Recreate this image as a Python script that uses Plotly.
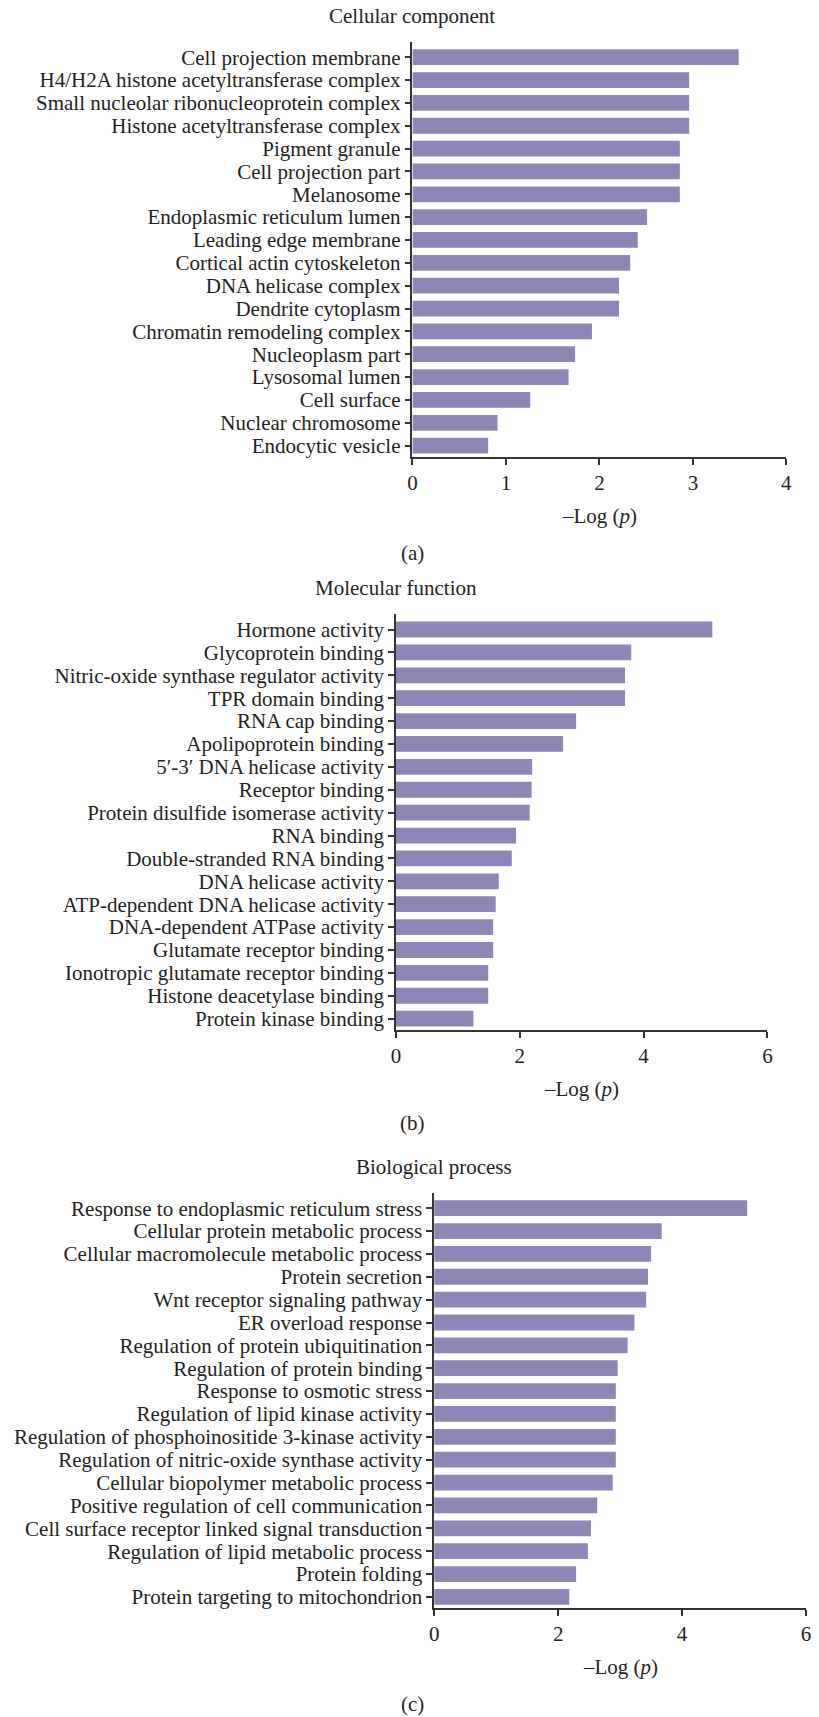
import plotly.graph_objects as go

W, H = 819, 1717

# ---- data -------------------------------------------------------------
cc_terms = [
    "Cell projection membrane",
    "H4/H2A histone acetyltransferase complex",
    "Small nucleolar ribonucleoprotein complex",
    "Histone acetyltransferase complex",
    "Pigment granule",
    "Cell projection part",
    "Melanosome",
    "Endoplasmic reticulum lumen",
    "Leading edge membrane",
    "Cortical actin cytoskeleton",
    "DNA helicase complex",
    "Dendrite cytoplasm",
    "Chromatin remodeling complex",
    "Nucleoplasm part",
    "Lysosomal lumen",
    "Cell surface",
    "Nuclear chromosome",
    "Endocytic vesicle",
]
cc_values = [3.49, 2.96, 2.96, 2.96, 2.86, 2.86, 2.86, 2.51, 2.41, 2.33,
             2.21, 2.21, 1.92, 1.74, 1.67, 1.26, 0.91, 0.81]

mf_terms = [
    "Hormone activity",
    "Glycoprotein binding",
    "Nitric-oxide synthase regulator activity",
    "TPR domain binding",
    "RNA cap binding",
    "Apolipoprotein binding",
    "5\u2032-3\u2032 DNA helicase activity",
    "Receptor binding",
    "Protein disulfide isomerase activity",
    "RNA binding",
    "Double-stranded RNA binding",
    "DNA helicase activity",
    "ATP-dependent DNA helicase activity",
    "DNA-dependent ATPase activity",
    "Glutamate receptor binding",
    "Ionotropic glutamate receptor binding",
    "Histone deacetylase binding",
    "Protein kinase binding",
]
mf_values = [5.11, 3.80, 3.70, 3.70, 2.91, 2.70, 2.20, 2.19, 2.16, 1.94,
             1.87, 1.66, 1.61, 1.57, 1.57, 1.49, 1.49, 1.25]

bp_terms = [
    "Response to endoplasmic reticulum stress",
    "Cellular protein metabolic process",
    "Cellular macromolecule metabolic process",
    "Protein secretion",
    "Wnt receptor signaling pathway",
    "ER overload response",
    "Regulation of protein ubiquitination",
    "Regulation of protein binding",
    "Response to osmotic stress",
    "Regulation of lipid kinase activity",
    "Regulation of phosphoinositide 3-kinase activity",
    "Regulation of nitric-oxide synthase activity",
    "Cellular biopolymer metabolic process",
    "Positive regulation of cell communication",
    "Cell surface receptor linked signal transduction",
    "Regulation of lipid metabolic process",
    "Protein folding",
    "Protein targeting to mitochondrion",
]
bp_values = [5.05, 3.67, 3.50, 3.45, 3.42, 3.23, 3.12, 2.96, 2.93, 2.93,
             2.93, 2.93, 2.88, 2.63, 2.53, 2.48, 2.29, 2.18]

panel_titles = ["Cellular component", "Molecular function", "Biological process"]
panel_letters = ["(a)", "(b)", "(c)"]
x_ticks = [[0, 1, 2, 3, 4], [0, 2, 4, 6], [0, 2, 4, 6]]
x_title = "\u2013Log (<i>p</i>)"

# ---- styling ----------------------------------------------------------
BAR = "#8f85b6"
INK = "#231f20"
AXIS = "#333333"
FONT = "Liberation Serif"

# pixel geometry of each panel: left/right of x axis, top/bottom of y axis
panels = [
    dict(x0=413.0, x1=792.0, top=41.7, bottom=457.3),
    dict(x0=396.3, x1=772.8, top=614.3, bottom=1030.7),
    dict(x0=435.0, x1=812.0, top=1193.3, bottom=1609.3),
]


def px_x(v):
    return v / W


def px_y(v):
    return 1 - v / H


fig = go.Figure()
series = [(cc_terms, cc_values), (mf_terms, mf_values), (bp_terms, bp_values)]

annotations = []
for i, ((terms, vals), geo, ticks) in enumerate(zip(series, panels, x_ticks)):
    n = i + 1
    xa = "x" if n == 1 else f"x{n}"
    ya = "y" if n == 1 else f"y{n}"
    fig.add_trace(go.Bar(
        x=vals, y=terms, orientation="h",
        marker=dict(color=BAR, line=dict(width=0)),
        xaxis=xa, yaxis=ya, showlegend=False,
    ))
    xkey = "xaxis" if n == 1 else f"xaxis{n}"
    ykey = "yaxis" if n == 1 else f"yaxis{n}"
    fig.update_layout({
        xkey: dict(
            domain=[px_x(geo["x0"]), px_x(geo["x1"])],
            range=[ticks[0], ticks[-1]],
            anchor=ya,
            tickmode="array", tickvals=ticks,
            ticks="outside", ticklen=6, tickwidth=1.5, tickcolor=AXIS,
            showline=True, linecolor=AXIS, linewidth=1.5,
            showgrid=False, zeroline=False,
            tickfont=dict(family=FONT, size=21, color=INK),
        ),
        ykey: dict(
            domain=[px_y(geo["bottom"]), px_y(geo["top"])],
            anchor=xa,
            type="category",
            categoryorder="array", categoryarray=terms,
            tickmode="array", tickvals=terms, ticktext=terms,
            range=[len(terms) - 0.5, -0.68],
            ticks="outside", ticklen=6, tickwidth=1.5, tickcolor=AXIS,
            showline=True, linecolor=AXIS, linewidth=1.5,
            showgrid=False, zeroline=False,
            tickfont=dict(family=FONT, size=21, color=INK),
        ),
    })
    # panel heading centred over the category axis line
    annotations.append(dict(
        text=panel_titles[i], x=px_x(geo["x0"]), y=px_y(geo["top"] - 26),
        xref="paper", yref="paper", xanchor="center", yanchor="middle",
        showarrow=False, font=dict(family=FONT, size=21, color=INK),
    ))
    # value-axis title
    annotations.append(dict(
        text=x_title, x=px_x((geo["x0"] + geo["x1"]) / 2),
        y=px_y(geo["bottom"] + 59),
        xref="paper", yref="paper", xanchor="center", yanchor="middle",
        showarrow=False, font=dict(family=FONT, size=21, color=INK),
    ))

letter_pos = [553.3, 1123.5, 1705.0]
for lab, ypos in zip(panel_letters, letter_pos):
    annotations.append(dict(
        text=lab, x=px_x(413.5), y=px_y(ypos),
        xref="paper", yref="paper", xanchor="center", yanchor="middle",
        showarrow=False, font=dict(family=FONT, size=21, color=INK),
    ))

fig.update_layout(
    width=W, height=H,
    margin=dict(l=0, r=0, t=0, b=0, pad=0),
    paper_bgcolor="white", plot_bgcolor="white",
    bargap=0.31,
    annotations=annotations,
    font=dict(family=FONT, color=INK),
)

fig.write_html("out.html")
